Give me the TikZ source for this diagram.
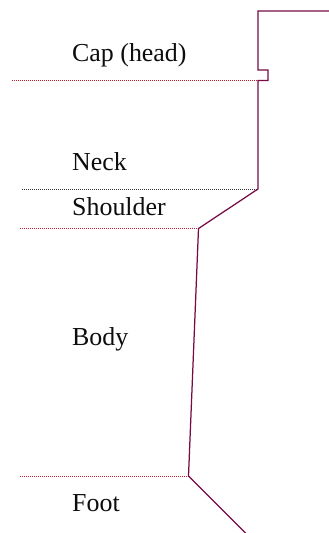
\documentclass[tikz,border=0pt]{standalone}
\usepackage{fontspec}
\setmainfont{Liberation Serif}
\definecolor{profile}{HTML}{750A45}
\definecolor{redline}{HTML}{C81E2E}
\tikzset{
    x=1pt,
    y=-1pt,
    every node/.append style={
        inner sep=0pt,
        anchor=base west,
        text=black!95,
        font=\fontsize{25.9}{30}\selectfont
    },
    profile/.style={
        draw=profile,
        line width=1.25pt,
        line join=miter
    },
    redmark/.style={
        draw=redline,
        line width=1pt,
        dash pattern=on 1pt off 1pt
    },
    blackmark/.style={
        draw=black!80,
        line width=1pt,
        dash pattern=on 1pt off 1pt
    }
}
\begin{document}
\begin{tikzpicture}
    \useasboundingbox (0,0) rectangle (329,533);

    \node (cap) at (72,61.5) {Cap (head)};
    \node (neck) at (72,170) {Neck};
    \node (shoulder) at (72,215) {Shoulder};
    \node (body) at (72,345) {Body};
    \node (foot) at (72,511.5) {Foot};

    \coordinate (topend) at (329,11);
    \coordinate (topcorner) at (258,11);
    \coordinate (capa) at (258,70);
    \coordinate (capb) at (268,70);
    \coordinate (capc) at (268,80.5);
    \coordinate (capd) at (258,80.5);
    \coordinate (neckend) at (258,189);
    \coordinate (shoulderend) at (198.5,228.5);
    \coordinate (bodyend) at (188.5,476);
    \coordinate (footend) at (245.5,533);

    \coordinate (capmark) at (12,80.5);
    \coordinate (neckmark) at (22,189);
    \coordinate (shouldermark) at (20,228.5);
    \coordinate (bodymark) at (20,476);

    \draw[redmark] (capmark) -- (capd);
    \draw[blackmark] (neckmark) -- (neckend);
    \draw[redmark] (shouldermark) -- (shoulderend);
    \draw[redmark] (bodymark) -- (bodyend);

    \draw[profile] (topend) -- (topcorner) -- (capa) -- (capb) -- (capc) -- (capd)
        -- (neckend) -- (shoulderend) -- (bodyend) -- (footend);
\end{tikzpicture}
\end{document}
